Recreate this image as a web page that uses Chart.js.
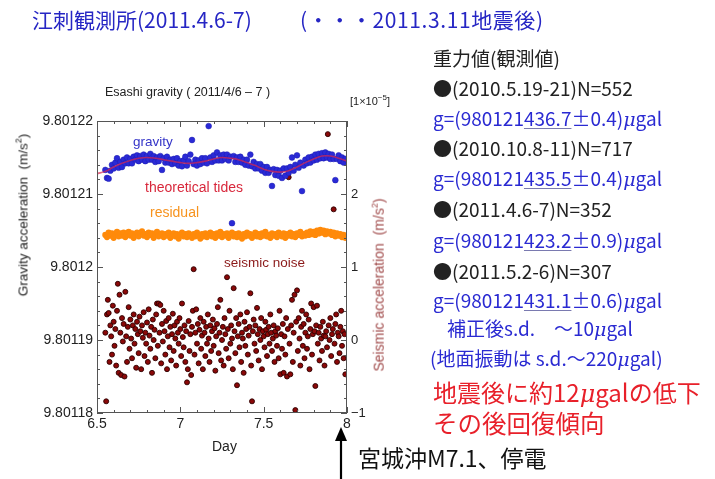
<!DOCTYPE html>
<html>
<head>
<meta charset="utf-8">
<script src="https://cdn.jsdelivr.net/npm/chart.js@4.4.1/dist/chart.umd.min.js"></script>
<style>
  body { margin: 0; background: #fff; }
  #wrap { position: relative; width: 715px; height: 479px; }
  .t { position: absolute; white-space: nowrap; line-height: 1; font-family: "Noto Sans CJK JP", sans-serif; }
  .lat { font-family: "Liberation Sans", Arial, sans-serif; }
  .mu { font-family: "DejaVu Serif", serif; font-style: italic; }
  .blue { color: #2a2ad2; }
  .red { color: #e8202a; }
  u { text-decoration-color: #7a7ab0; text-underline-offset: 2px; }
</style>
</head>
<body>
<div id="wrap">
  <canvas id="chart"></canvas>

  <div class="t" style="left:32px;top:9px;font-size:21px;color:#2626c4">江刺観測所(2011.4.6-7)</div>
  <div class="t" style="left:300px;top:9px;font-size:21px;color:#2626c4;letter-spacing:0.6px">(・・・2011.3.11地震後)</div>

  <div class="t lat" style="left:105px;top:86px;font-size:12.5px;color:#222">Esashi gravity ( 2011/4/6 – 7 )</div>
  <div class="t lat" style="left:350px;top:94px;font-size:11px;color:#222">[1×10<sup style="font-size:8px">−5</sup>]</div>

  <div class="t lat" style="left:133px;top:135px;font-size:13.5px;color:#3434c8">gravity</div>
  <div class="t lat" style="left:145px;top:180px;font-size:14px;color:#d8283c">theoretical tides</div>
  <div class="t lat" style="left:150px;top:205px;font-size:14px;color:#f7931e">residual</div>
  <div class="t lat" style="left:224px;top:256px;font-size:13.5px;color:#8b1a1a">seismic noise</div>

  <div class="t lat" style="left:22px;top:215px;font-size:13.5px;color:#222;transform:translate(-50%,-50%) rotate(-90deg)">Gravity acceleration&nbsp; (m/s<sup style="font-size:9px">2</sup>)</div>
  <div class="t lat" style="left:378px;top:285px;font-size:14px;color:#a04a4a;transform:translate(-50%,-50%) rotate(-90deg)">Seismic acceleration&nbsp; (m/s<sup style="font-size:9px">2</sup>)</div>
  <div class="t lat" style="left:212px;top:439px;font-size:14px;color:#222">Day</div>

  <div class="t" style="left:433px;top:48px;font-size:19px;color:#222">重力値(観測値)</div>
  <div class="t" style="left:433px;top:78px;font-size:19px;color:#222">●(2010.5.19-21)N=552</div>
  <div class="t blue" style="left:433px;top:108px;font-size:19px">g=(980121<u>436.7</u>±0.4)<span class="mu">μ</span>gal</div>
  <div class="t" style="left:433px;top:138px;font-size:19px;color:#222">●(2010.10.8-11)N=717</div>
  <div class="t blue" style="left:433px;top:168px;font-size:19px">g=(980121<u>435.5</u>±0.4)<span class="mu">μ</span>gal</div>
  <div class="t" style="left:433px;top:199px;font-size:19px;color:#222">●(2011.4.6-7)N=352</div>
  <div class="t blue" style="left:433px;top:230px;font-size:19px">g=(980121<u>423.2</u>±0.9)<span class="mu">μ</span>gal</div>
  <div class="t" style="left:433px;top:261px;font-size:19px;color:#222">●(2011.5.2-6)N=307</div>
  <div class="t blue" style="left:433px;top:290px;font-size:19px">g=(980121<u>431.1</u>±0.6)<span class="mu">μ</span>gal</div>
  <div class="t blue" style="left:447px;top:318px;font-size:19px">補正後s.d.　〜10<span class="mu">μ</span>gal</div>
  <div class="t blue" style="left:430px;top:348px;font-size:19px">(地面振動は s.d.〜220<span class="mu">μ</span>gal)</div>
  <div class="t red" style="left:433px;top:380px;font-size:24px">地震後に約12<span class="mu">μ</span>galの低下</div>
  <div class="t red" style="left:433px;top:411px;font-size:24.5px">その後回復傾向</div>
  <div class="t" style="left:358px;top:446px;font-size:23px;color:#111">宮城沖M7.1、停電</div>
</div>

<script>
// 観測時刻 (day)
const days = [
  6.55,6.56,6.57,6.58,6.59,6.60,6.61,6.62,6.63,6.64,
  6.65,6.66,6.67,6.68,6.69,6.70,6.71,6.72,6.73,6.74,
  6.75,6.76,6.77,6.78,6.79,6.80,6.81,6.82,6.83,6.84,
  6.85,6.86,6.87,6.88,6.89,6.90,6.91,6.92,6.93,6.94,
  6.95,6.96,6.97,6.98,6.99,7.00,7.01,7.02,7.03,7.04,
  7.05,7.06,7.07,7.08,7.09,7.10,7.11,7.12,7.13,7.14,
  7.15,7.16,7.17,7.18,7.19,7.20,7.21,7.22,7.23,7.24,
  7.25,7.26,7.27,7.28,7.29,7.30,7.31,7.32,7.33,7.34,
  7.35,7.36,7.37,7.38,7.39,7.40,7.41,7.42,7.43,7.44,
  7.45,7.46,7.47,7.48,7.49,7.50,7.51,7.52,7.53,7.54,
  7.55,7.56,7.57,7.58,7.59,7.60,7.61,7.62,7.63,7.64,
  7.65,7.66,7.67,7.68,7.69,7.70,7.71,7.72,7.73,7.74,
  7.75,7.76,7.77,7.78,7.79,7.80,7.81,7.82,7.83,7.84,
  7.85,7.86,7.87,7.88,7.89,7.90,7.91,7.92,7.93,7.94,
  7.95,7.96,7.97,7.98,7.99
];

// 重力観測値 (m/s^2)
const gravity = [
  9.8012133,9.8012122,9.8012121,9.8012132,9.8012140,9.8012135,9.8012143,9.8012149,9.8012136,9.8012144,
  9.8012137,9.8012147,9.8012142,9.8012150,9.8012142,9.8012148,9.8012142,9.8012151,9.8012147,9.8012153,
  9.8012145,9.8012152,9.8012147,9.8012154,9.8012145,9.8012152,9.8012147,9.8012155,9.8012147,9.8012152,
  9.8012144,9.8012150,9.8012145,9.8012152,9.8012133,9.8012149,9.8012143,9.8012151,9.8012143,9.8012147,
  9.8012141,9.8012148,9.8012142,9.8012149,9.8012139,9.8012145,9.8012138,9.8012146,9.8012151,9.8012139,
  9.8012145,9.8012154,9.8012174,9.8012141,9.8012147,9.8012139,9.8012146,9.8012141,9.8012149,9.8012143,
  9.8012149,9.8012142,9.8012193,9.8012150,9.8012144,9.8012153,9.8012146,9.8012157,9.8012146,9.8012153,
  9.8012146,9.8012154,9.8012148,9.8012154,9.8012146,9.8012151,9.8012060,9.8012152,9.8012144,9.8012150,
  9.8012144,9.8012151,9.8012143,9.8012147,9.8012140,9.8012147,9.8012139,9.8012154,9.8012138,9.8012144,
  9.8012135,9.8012141,9.8012135,9.8012141,9.8012132,9.8012137,9.8012129,9.8012137,9.8012129,9.8012133,
  9.8012111,9.8012134,9.8012126,9.8012133,9.8012125,9.8012132,9.8012122,9.8012135,9.8012125,9.8012135,
  9.8012129,9.8012137,9.8012150,9.8012132,9.8012140,9.8012153,9.8012136,9.8012143,9.8012104,9.8012139,
  9.8012147,9.8012142,9.8012150,9.8012143,9.8012151,9.8012146,9.8012154,9.8012147,9.8012155,9.8012149,
  9.8012156,9.8012149,9.8012157,9.8012150,9.8012155,9.8012148,9.8012154,9.8012148,9.8012119,9.8012148,
  9.8012153,9.8012145,9.8012150,9.8012143,9.8012148
];

// 残差 (m/s^2)
const residual = [
  9.8012044,9.8012041,9.8012047,9.8012043,9.8012046,9.8012040,9.8012045,9.8012048,9.8012042,9.8012046,
  9.8012043,9.8012047,9.8012041,9.8012045,9.8012048,9.8012043,9.8012046,9.8012040,9.8012044,9.8012047,
  9.8012042,9.8012046,9.8012049,9.8012043,9.8012045,9.8012041,9.8012047,9.8012044,9.8012046,9.8012040,
  9.8012045,9.8012048,9.8012042,9.8012044,9.8012046,9.8012041,9.8012045,9.8012043,9.8012047,9.8012040,
  9.8012044,9.8012046,9.8012042,9.8012045,9.8012039,9.8012044,9.8012047,9.8012042,9.8012045,9.8012041,
  9.8012046,9.8012043,9.8012040,9.8012045,9.8012042,9.8012047,9.8012043,9.8012039,9.8012045,9.8012042,
  9.8012046,9.8012041,9.8012044,9.8012047,9.8012042,9.8012045,9.8012040,9.8012046,9.8012043,9.8012048,
  9.8012041,9.8012045,9.8012043,9.8012046,9.8012040,9.8012044,9.8012047,9.8012042,9.8012045,9.8012041,
  9.8012046,9.8012043,9.8012039,9.8012045,9.8012042,9.8012047,9.8012043,9.8012045,9.8012040,9.8012044,
  9.8012047,9.8012042,9.8012045,9.8012041,9.8012046,9.8012043,9.8012048,9.8012042,9.8012044,9.8012040,
  9.8012046,9.8012043,9.8012045,9.8012041,9.8012047,9.8012044,9.8012042,9.8012046,9.8012040,9.8012045,
  9.8012043,9.8012047,9.8012042,9.8012045,9.8012041,9.8012046,9.8012044,9.8012048,9.8012042,9.8012045,
  9.8012043,9.8012047,9.8012044,9.8012049,9.8012045,9.8012048,9.8012044,9.8012050,9.8012046,9.8012051,
  9.8012047,9.8012050,9.8012045,9.8012049,9.8012046,9.8012048,9.8012044,9.8012047,9.8012042,9.8012046,
  9.8012043,9.8012045,9.8012041,9.8012044,9.8012040
];

// 理論潮汐
const tideDays = [
  6.50,6.55,6.60,6.65,6.70,6.75,6.80,6.85,6.90,6.95,7.00,7.05,7.10,7.15,7.20,7.25,
  7.30,7.35,7.40,7.45,7.50,7.55,7.60,7.65,7.70,7.75,7.80,7.85,7.90,7.95,8.00
];
const tides = [
  9.8012128,9.8012131,9.8012137,9.8012142,9.8012146,9.8012149,9.8012150,9.8012149,
  9.8012147,9.8012145,9.8012143,9.8012142,9.8012143,9.8012145,9.8012148,9.8012150,
  9.8012149,9.8012147,9.8012143,9.8012139,9.8012134,9.8012131,9.8012130,9.8012132,
  9.8012137,9.8012143,9.8012148,9.8012152,9.8012152,9.8012149,9.8012145
];

// 地面振動 [day, 1e-5 m/s^2]
const seismic = [
  [6.550,0.10],[6.555,-0.84],[6.560,0.35],[6.565,0.55],[6.570,0.37],[6.575,-0.30],[6.580,0.20],[6.585,0.05],[6.590,-0.20],[6.595,0.47],
  [6.600,0.25],[6.605,-0.08],[6.610,0.15],[6.615,-0.35],[6.620,0.40],[6.625,0.77],[6.630,-0.45],[6.635,0.62],[6.640,0.10],[6.645,-0.48],
  [6.650,0.30],[6.655,-0.02],[6.660,0.22],[6.665,-0.50],[6.670,0.66],[6.675,0.05],[6.680,-0.30],[6.685,0.18],[6.690,0.45],[6.695,-0.12],
  [6.700,0.28],[6.705,0.02],[6.710,-0.25],[6.715,0.20],[6.720,0.35],[6.725,-0.05],[6.730,0.15],[6.735,-0.38],[6.740,0.25],[6.745,0.08],
  [6.750,-0.18],[6.755,0.32],[6.760,0.12],[6.765,-0.40],[6.770,0.20],[6.775,0.03],[6.780,0.38],[6.785,-0.22],[6.790,0.10],[6.795,-0.05],
  [6.800,0.24],[6.805,-0.30],[6.810,0.42],[6.815,0.06],[6.820,-0.12],[6.825,0.18],[6.830,-0.45],[6.835,0.28],[6.840,0.00],[6.845,0.14],
  [6.850,-0.25],[6.855,0.35],[6.860,0.50],[6.865,-0.08],[6.870,0.50],[6.875,0.10],[6.880,0.48],[6.885,-0.32],[6.890,0.22],[6.895,-0.02],
  [6.900,0.40],[6.905,0.12],[6.910,-0.20],[6.915,0.26],[6.920,-0.40],[6.925,0.05],[6.930,0.30],[6.935,-0.10],[6.940,0.18],[6.945,-0.28],
  [6.950,0.08],[6.955,0.36],[6.960,-0.15],[6.965,0.20],[6.970,0.02],[6.975,-0.35],[6.980,0.25],[6.985,0.10],[6.990,-0.05],[6.995,0.30],
  [7.000,0.15],[7.005,-0.22],[7.010,0.50],[7.015,0.04],[7.020,-0.10],[7.025,0.20],[7.030,-0.30],[7.035,0.12],[7.040,-0.58],[7.045,-0.40],
  [7.050,0.26],[7.055,-0.15],[7.060,0.08],[7.065,-0.48],[7.070,0.18],[7.075,0.40],[7.080,0.97],[7.085,-0.20],[7.090,0.10],[7.095,0.42],
  [7.100,-0.05],[7.105,0.22],[7.110,-0.32],[7.115,0.14],[7.120,0.30],[7.125,-0.12],[7.130,0.06],[7.135,-0.40],[7.140,0.25],[7.145,0.10],
  [7.150,-0.22],[7.155,0.18],[7.160,-0.05],[7.165,0.35],[7.170,0.02],[7.175,-0.30],[7.180,0.20],[7.185,-0.15],[7.190,0.12],[7.195,0.28],
  [7.200,-0.08],[7.205,0.16],[7.210,-0.42],[7.215,0.05],[7.220,0.22],[7.225,0.45],[7.230,-0.18],[7.235,0.10],[7.240,0.55],[7.245,-0.28],
  [7.250,0.00],[7.255,0.18],[7.260,-0.35],[7.265,0.30],[7.270,0.08],[7.275,-0.12],[7.280,0.86],[7.285,0.15],[7.290,-0.25],[7.295,0.40],
  [7.300,-0.05],[7.305,0.20],[7.310,0.02],[7.315,-0.40],[7.320,0.71],[7.325,0.12],[7.330,-0.18],[7.335,0.30],[7.340,-0.62],[7.345,0.05],
  [7.350,0.22],[7.355,-0.10],[7.360,0.35],[7.365,-0.30],[7.370,0.10],[7.375,0.02],[7.380,-0.45],[7.385,0.25],[7.390,-0.08],[7.395,0.15],
  [7.400,0.38],[7.405,-0.20],[7.410,0.06],[7.415,0.18],[7.420,0.64],[7.425,-0.35],[7.430,-0.84],[7.435,0.12],[7.440,0.28],[7.445,-0.05],
  [7.450,0.20],[7.455,-0.15],[7.460,0.44],[7.465,0.08],[7.470,-0.28],[7.475,0.15],[7.480,0.00],[7.485,0.30],[7.490,-0.40],[7.495,0.12],
  [7.500,0.05],[7.505,-0.10],[7.510,0.25],[7.515,0.14],[7.520,-0.22],[7.525,0.08],[7.530,0.18],[7.535,-0.05],[7.540,0.35],[7.545,0.10],
  [7.550,-0.15],[7.555,0.02],[7.560,0.20],[7.565,-0.30],[7.570,0.12],[7.575,0.06],[7.580,-0.08],[7.585,0.16],[7.590,-0.25],[7.595,0.40],
  [7.600,-0.47],[7.605,0.08],[7.610,-0.12],[7.615,0.22],[7.620,-0.45],[7.625,0.05],[7.630,-0.20],[7.635,0.30],[7.640,-0.50],[7.645,0.15],
  [7.650,2.23],[7.655,-0.05],[7.660,-0.47],[7.665,0.20],[7.670,0.55],[7.675,-0.30],[7.680,0.10],[7.685,0.62],[7.690,-0.96],[7.695,0.25],
  [7.700,0.68],[7.705,-0.15],[7.710,0.30],[7.715,0.02],[7.720,-0.35],[7.725,0.18],[7.730,0.40],[7.735,-0.08],[7.740,0.22],[7.745,-0.25],
  [7.750,0.10],[7.755,0.35],[7.760,-0.12],[7.765,0.05],[7.770,0.28],[7.775,-0.40],[7.780,0.15],[7.785,0.50],[7.790,-0.20],[7.795,0.08],
  [7.800,0.45],[7.805,0.12],[7.810,-0.63],[7.815,0.20],[7.820,0.47],[7.825,-0.05],[7.830,0.10],[7.835,-0.28],[7.840,0.18],[7.845,0.02],
  [7.850,-0.15],[7.855,0.25],[7.860,0.06],[7.865,-0.35],[7.870,0.05],[7.875,0.12],[7.880,-0.10],[7.885,2.82],[7.890,0.20],[7.895,0.00],
  [7.900,0.30],[7.905,-0.22],[7.910,0.08],[7.915,0.15],[7.920,1.79],[7.925,-0.05],[7.930,0.22],[7.935,0.35],[7.940,-0.30],[7.945,0.10],
  [7.950,0.05],[7.955,-0.18],[7.960,0.18],[7.965,0.40],[7.970,-0.08],[7.975,0.12],[7.980,-0.25],[7.985,0.08],[7.990,-0.47]
];

// 目盛
const dayTicks = [6.5, 7, 7.5, 8];
const dayTickLabels = ['6.5', '7', '7.5', '8'];
const gravityTicks = [9.80118, 9.80119, 9.8012, 9.80121, 9.80122];
const gravityTickLabels = ['9.80118', '9.80119', '9.8012', '9.80121', '9.80122'];
const seismicTicks = [-1, 0, 1, 2];
const seismicTickLabels = ['−1', '0', '1', '2'];

const quakeDay = 7.965; // 宮城沖M7.1

const FONT = { family: 'Liberation Sans, Arial, sans-serif', size: 14 };

// Mathematica風の枠と内向き目盛
const frameTicks = {
  id: 'frameTicks',
  afterDatasetsDraw(chart) {
    const { ctx, chartArea: a, scales } = chart;
    const x = scales.x, y2 = scales.y2;
    ctx.save();
    ctx.strokeStyle = '#555';
    ctx.lineWidth = 1;
    ctx.strokeRect(a.left + 0.5, a.top + 0.5, a.width - 1, a.height - 1);
    ctx.beginPath();
    for (let i = 0; i <= 15; i++) {
      const px = Math.round(x.getPixelForValue(6.5 + i * 0.1)) + 0.5;
      const len = i % 5 === 0 ? 6 : 3;
      ctx.moveTo(px, a.bottom); ctx.lineTo(px, a.bottom - len);
      ctx.moveTo(px, a.top); ctx.lineTo(px, a.top + len);
    }
    for (let i = 0; i <= 20; i++) {
      const py = Math.round(y2.getPixelForValue(-1 + i * 0.2)) + 0.5;
      const len = i % 5 === 0 ? 6 : 3;
      ctx.moveTo(a.left, py); ctx.lineTo(a.left + len, py);
      ctx.moveTo(a.right, py); ctx.lineTo(a.right - len, py);
    }
    ctx.stroke();

    // 地震の矢印
    const ax = Math.round(x.getPixelForValue(quakeDay));
    ctx.strokeStyle = '#000';
    ctx.fillStyle = '#000';
    ctx.lineWidth = 2.2;
    ctx.beginPath();
    ctx.moveTo(ax, a.bottom + 22);
    ctx.lineTo(ax, chart.height);
    ctx.stroke();
    ctx.beginPath();
    ctx.moveTo(ax, a.bottom + 14);
    ctx.lineTo(ax - 6, a.bottom + 28);
    ctx.lineTo(ax + 6, a.bottom + 28);
    ctx.closePath();
    ctx.fill();
    ctx.restore();
  }
};

new Chart(document.getElementById('chart'), {
  type: 'scatter',
  data: {
    datasets: [
      {
        label: 'theoretical tides',
        data: tideDays.map((d, i) => ({ x: d, y: tides[i] })),
        showLine: true,
        borderColor: 'rgba(220, 40, 80, 0.7)',
        borderWidth: 1.6,
        pointRadius: 0,
        tension: 0.4,
        yAxisID: 'y'
      },
      {
        label: 'gravity',
        data: days.map((d, i) => ({ x: d, y: gravity[i] })),
        backgroundColor: '#2a2ad6',
        borderColor: '#1c1cb0',
        borderWidth: 0.5,
        pointRadius: 2.9,
        yAxisID: 'y'
      },
      {
        label: 'residual',
        data: days.map((d, i) => ({ x: d, y: residual[i] })),
        backgroundColor: '#ff8a0a',
        borderWidth: 0,
        pointRadius: 3.1,
        yAxisID: 'y'
      },
      {
        label: 'seismic noise',
        data: seismic.map(([d, v]) => ({ x: d, y: v })),
        backgroundColor: '#8a0808',
        borderColor: '#2e0000',
        borderWidth: 0.9,
        pointRadius: 2.5,
        yAxisID: 'y2'
      }
    ]
  },
  options: {
    responsive: true,
    maintainAspectRatio: false,
    animation: false,
    layout: { padding: { top: 121, left: 0, right: 0, bottom: 0 } },
    plugins: {
      legend: { display: false },
      tooltip: { enabled: false }
    },
    scales: {
      x: {
        type: 'linear',
        min: 6.5,
        max: 8,
        afterFit: (s) => { s.height = 66; },
        afterBuildTicks: (s) => { s.ticks = dayTicks.map(v => ({ value: v })); },
        grid: { display: false, drawTicks: false },
        border: { display: false },
        ticks: {
          autoSkip: false,
          maxRotation: 0,
          padding: 3,
          color: '#222',
          font: FONT,
          callback: (v, i) => dayTickLabels[i]
        }
      },
      y: {
        position: 'left',
        min: 9.80118,
        max: 9.80122,
        afterFit: (s) => { s.width = 97; },
        afterBuildTicks: (s) => { s.ticks = gravityTicks.map(v => ({ value: v })); },
        grid: { display: false, drawTicks: false },
        border: { display: false },
        ticks: {
          autoSkip: false,
          padding: 4,
          color: '#222',
          font: FONT,
          callback: (v, i) => gravityTickLabels[i]
        }
      },
      y2: {
        position: 'right',
        min: -1,
        max: 3,
        afterFit: (s) => { s.width = 368; },
        afterBuildTicks: (s) => { s.ticks = seismicTicks.map(v => ({ value: v })); },
        grid: { display: false, drawTicks: false },
        border: { display: false },
        ticks: {
          autoSkip: false,
          padding: 4,
          color: '#222',
          font: { family: FONT.family, size: 13 },
          callback: (v, i) => seismicTickLabels[i]
        }
      }
    }
  },
  plugins: [frameTicks]
});
</script>
</body>
</html>
